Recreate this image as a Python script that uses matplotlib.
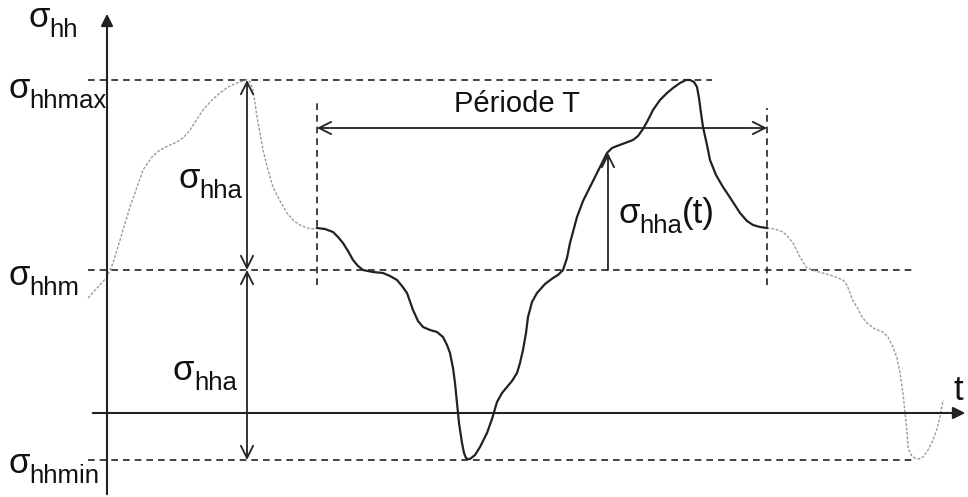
import numpy as np
import matplotlib.pyplot as plt

plt.rcParams['font.family'] = 'Liberation Sans'

# stress levels (axis at 0)
s_max = 333
s_m = 143
s_min = -47

# one period of the signal, from t0 to t1
t0, t1 = 317, 767
t_per = [317, 325, 333, 338, 343, 348, 353, 358, 363, 373, 383, 390, 397, 402, 407,
         413, 418, 423, 430, 437, 443, 447, 450, 453, 455, 457, 459, 462, 464, 466,
         468, 470, 475, 480, 487, 492, 497, 502, 507, 512, 517, 520, 523, 526, 528,
         532, 537, 545, 553, 558, 563, 567, 570, 577, 583, 590, 598, 607, 612, 617,
         625, 633, 638, 643, 648, 653, 660, 667, 673, 680, 686, 690, 694, 697, 699,
         701, 703, 707, 710, 716, 723, 731, 740, 747, 753, 760, 767]
s_per = [185, 184, 181, 176, 170, 162, 153, 147, 143, 141, 140, 137, 133, 127, 120,
         103, 92, 86, 83, 81, 76, 68, 60, 45, 30, 10, -10, -30, -40, -45,
         -46, -46, -42, -34, -20, -6, 11, 20, 26, 32, 40, 50, 63, 80, 96,
         111, 120, 129, 135, 138, 143, 155, 170, 196, 212, 226, 242, 260, 265, 267,
         270, 273, 277, 284, 293, 303, 313, 320, 325, 330, 333, 333, 331, 326, 315,
         300, 286, 268, 253, 238, 226, 214, 200, 192, 188, 186, 185]

# dotted continuation before and after the period
t_pre = [88, 98, 107, 113, 120, 130, 143, 152, 160, 168, 177, 184, 190, 197, 203,
         212, 220, 228, 237, 243, 247, 250, 253, 255, 257, 260, 263, 268, 273, 280,
         287, 294, 300, 307, 313, 317]
s_pre = [115, 126, 136, 150, 173, 206, 243, 256, 263, 267, 271, 276, 283, 294, 303,
         313, 320, 326, 330, 332, 333, 331, 323, 310, 296, 280, 263, 243, 226, 212,
         200, 192, 188, 185, 184, 185]
t_post = [767, 775, 783, 788, 793, 800, 807, 815, 823, 833, 843, 847, 850, 853, 857,
          862, 867, 875, 883, 888, 893, 897, 900, 903, 905, 907, 908, 910, 912, 915,
          919, 923, 928, 933, 937, 940, 943]
s_post = [185, 184, 181, 176, 170, 156, 145, 142, 140, 137, 133, 128, 120, 112, 106,
          96, 90, 84, 81, 76, 66, 55, 40, 20, 0, -18, -34, -40, -43, -45,
          -46, -44, -37, -27, -16, -4, 13]

fig = plt.figure(figsize=(9.68, 4.97), dpi=100)
ax = fig.add_axes([0, 0, 1, 1])
ax.set_xlim(0, 968)
ax.set_ylim(-84, 413)
ax.axis('off')

k = '#222222'
dash = dict(color=k, lw=1.2, ls=(0, (4, 3)))

# reference levels and period bounds
ax.plot([88, 712], [s_max, s_max], **dash)
ax.plot([88, 912], [s_m, s_m], **dash)
ax.plot([88, 912], [s_min, s_min], **dash)
ax.plot([t0, t0], [128, 310], **dash)
ax.plot([t1, t1], [128, 305], **dash)

# axes
ax.annotate('', xy=(107, 402), xytext=(107, -84),
            arrowprops=dict(arrowstyle='-|>', color=k, lw=1.5, mutation_scale=18))
ax.annotate('', xy=(968, 0), xytext=(90, 0),
            arrowprops=dict(arrowstyle='-|>', color=k, lw=1.5, mutation_scale=18))

# signal
ax.plot(t_pre, s_pre, color='#9a9a9a', lw=1.0, ls=(0, (2, 1.2)))
ax.plot(t_post, s_post, color='#9a9a9a', lw=1.0, ls=(0, (2, 1.2)))
ax.plot(t_per, s_per, color=k, lw=1.6, solid_joinstyle='round')

# amplitude and period arrows
arr = dict(arrowstyle='<->', color=k, lw=1.3, mutation_scale=22, shrinkA=0, shrinkB=0)
ax.annotate('', xy=(247, s_max), xytext=(247, s_m), arrowprops=arr)
ax.annotate('', xy=(247, s_m), xytext=(247, s_min), arrowprops=arr)
ax.annotate('', xy=(t0, 285), xytext=(t1, 285), arrowprops=arr)
ax.annotate('', xy=(608, 260), xytext=(608, s_m),
            arrowprops=dict(arrowstyle='->', color=k, lw=1.3, mutation_scale=22,
                            shrinkA=0, shrinkB=0))

big, small = 25, 18.5


def sigma(x, y, sub, tail=''):
    sig = ax.text(x, y, 'σ', fontsize=big, va='baseline', color='#111111')
    s = ax.annotate(sub, xy=(1, 0), xycoords=sig, xytext=(0, -2),
                    textcoords='offset points', fontsize=small, va='baseline',
                    color='#111111')
    if tail:
        ax.annotate(tail, xy=(1, 0), xycoords=(s, sig), fontsize=big,
                    va='bottom', color='#111111')


sigma(28, 386, 'hh')
sigma(8, 315, 'hhmax')
sigma(8, 128, 'hhm')
sigma(8, -60, 'hhmin')
sigma(178, 225, 'hha')
sigma(173, 33, 'hha')
sigma(618, 190, 'hha', '(t)')
ax.text(454, 301, 'Période T', fontsize=21, va='baseline', color='#111111')
ax.text(953, 13, 't', fontsize=big, va='baseline', color='#111111')

fig.savefig('out.png', dpi=100)
